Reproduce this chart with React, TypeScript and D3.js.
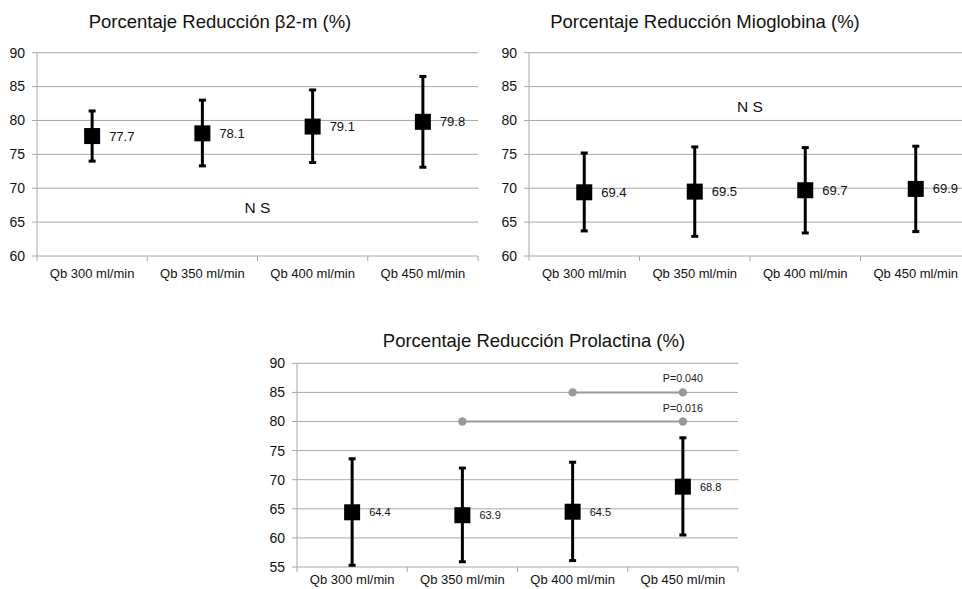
import * as d3 from "d3";

const categories = ["Qb 300 ml/min", "Qb 350 ml/min", "Qb 400 ml/min", "Qb 450 ml/min"];

// β2-microglobulina
const b2mMean = [77.7, 78.1, 79.1, 79.8];
const b2mLow = [74.0, 73.3, 73.8, 73.1];
const b2mHigh = [81.4, 83.0, 84.5, 86.5];

// Mioglobina
const mioMean = [69.4, 69.5, 69.7, 69.9];
const mioLow = [63.7, 62.9, 63.4, 63.6];
const mioHigh = [75.2, 76.1, 76.0, 76.2];

// Prolactina
const prlMean = [64.4, 63.9, 64.5, 68.8];
const prlLow = [55.3, 55.9, 56.1, 60.5];
const prlHigh = [73.6, 72.0, 73.0, 77.2];

// comparaciones significativas (prolactina)
const prlSig = [
  { from: 2, to: 3, value: 85, label: "P=0.040" },
  { from: 1, to: 3, value: 80, label: "P=0.016" },
];

const FONT = "'Liberation Sans', Arial, Helvetica, sans-serif";
const GRID = "#a8a8a8";

interface Sig {
  from: number;
  to: number;
  value: number;
  label: string;
}

interface PanelProps {
  title: string;
  titleX: number;
  titleY: number;
  x0: number;
  x1: number;
  yTop: number;
  yBottom: number;
  domain: [number, number];
  mean: number[];
  low: number[];
  high: number[];
  valueSize: number;
  catY: number;
  ns?: { value: number };
  sig?: Sig[];
}

function Panel(p: PanelProps) {
  const x = d3.scaleBand<string>().domain(categories).range([p.x0, p.x1]).padding(0);
  const y = d3.scaleLinear().domain(p.domain).range([p.yBottom, p.yTop]);
  const ticks = d3.range(p.domain[0], p.domain[1] + 1, 5);
  const cx = (c: string) => (x(c) ?? 0) + x.bandwidth() / 2;
  const bounds = categories.map((c) => x(c) ?? 0).concat([p.x1]);
  const half = 8;

  return (
    <g>
      <text x={p.titleX} y={p.titleY} textAnchor="middle" fontSize={18.5} fill="#111">
        {p.title}
      </text>
      {ticks.map((t) => (
        <g key={t}>
          <line x1={p.x0 - 5} x2={p.x1} y1={y(t)} y2={y(t)} stroke={GRID} strokeWidth={1} />
          <text x={p.x0 - 12} y={y(t)} dy="0.35em" textAnchor="end" fontSize={14} fill="#111">
            {t}
          </text>
        </g>
      ))}
      <line x1={p.x0} x2={p.x0} y1={p.yTop} y2={p.yBottom + 5} stroke={GRID} strokeWidth={1} />
      {bounds.slice(1).map((b, i) => (
        <line key={i} x1={b} x2={b} y1={p.yBottom} y2={p.yBottom + 5} stroke={GRID} strokeWidth={1} />
      ))}
      {categories.map((c) => (
        <text key={c} x={cx(c)} y={p.catY} textAnchor="middle" fontSize={13} fill="#111">
          {c}
        </text>
      ))}
      {p.sig?.map((s, i) => {
        const xa = cx(categories[s.from]);
        const xb = cx(categories[s.to]);
        return (
          <g key={i}>
            <line x1={xa} x2={xb} y1={y(s.value)} y2={y(s.value)} stroke="#999" strokeWidth={2} />
            <circle cx={xa} cy={y(s.value)} r={4.2} fill="#999" />
            <circle cx={xb} cy={y(s.value)} r={4.2} fill="#999" />
            <text x={xb} y={y(s.value) - 10} textAnchor="middle" fontSize={10.7} fill="#222">
              {s.label}
            </text>
          </g>
        );
      })}
      {categories.map((c, i) => {
        const xc = cx(c);
        return (
          <g key={c}>
            <line x1={xc} x2={xc} y1={y(p.high[i])} y2={y(p.low[i])} stroke="#000" strokeWidth={3} />
            <line x1={xc - 3.5} x2={xc + 3.5} y1={y(p.high[i])} y2={y(p.high[i])} stroke="#000" strokeWidth={3} />
            <line x1={xc - 3.5} x2={xc + 3.5} y1={y(p.low[i])} y2={y(p.low[i])} stroke="#000" strokeWidth={3} />
            <rect x={xc - half} y={y(p.mean[i]) - half} width={half * 2} height={half * 2} fill="#000" />
            <text x={xc + 17} y={y(p.mean[i])} dy="0.35em" fontSize={p.valueSize} fill="#111">
              {p.mean[i].toFixed(1)}
            </text>
          </g>
        );
      })}
      {p.ns && (
        <text x={(p.x0 + p.x1) / 2} y={y(p.ns.value)} textAnchor="middle" fontSize={15.5} fill="#111">
          N S
        </text>
      )}
    </g>
  );
}

export default function App() {
  return (
    <svg
      width={962}
      height={589}
      style={{ position: "absolute", left: 0, top: 0, background: "#fff" }}
      fontFamily={FONT}
    >
      <rect width={962} height={589} fill="#fff" />
      <Panel
        title="Porcentaje Reducción β2-m (%)"
        titleX={220}
        titleY={28}
        x0={37}
        x1={478}
        yTop={52.7}
        yBottom={256}
        domain={[60, 90]}
        mean={b2mMean}
        low={b2mLow}
        high={b2mHigh}
        valueSize={13}
        catY={278}
        ns={{ value: 66.4 }}
      />
      <Panel
        title="Porcentaje Reducción Mioglobina (%)"
        titleX={705}
        titleY={28}
        x0={529}
        x1={971}
        yTop={52.7}
        yBottom={256}
        domain={[60, 90]}
        mean={mioMean}
        low={mioLow}
        high={mioHigh}
        valueSize={13}
        catY={278}
        ns={{ value: 81.25 }}
      />
      <Panel
        title="Porcentaje Reducción Prolactina (%)"
        titleX={534}
        titleY={347}
        x0={297}
        x1={738}
        yTop={363.3}
        yBottom={567}
        domain={[55, 90]}
        mean={prlMean}
        low={prlLow}
        high={prlHigh}
        valueSize={11}
        catY={584}
        sig={prlSig}
      />
    </svg>
  );
}
